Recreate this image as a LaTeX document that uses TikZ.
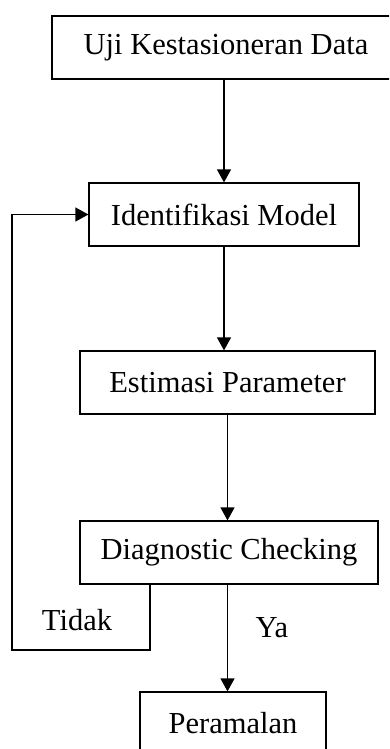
\documentclass[tikz,border=0pt]{standalone}
\usepackage{fontspec}
\setmainfont{Liberation Serif}
\usetikzlibrary{arrows.meta}

\begin{document}
\begin{tikzpicture}[x=1pt,y=-1pt,
  block/.style={rectangle,draw,line width=1.2pt,minimum height=63pt,inner sep=0pt,font=\fontsize{30.5}{36}\selectfont},
  arr/.style={line width=1.2pt,-{Triangle[length=13pt,width=14pt]}},
  lbl/.style={font=\fontsize{30.5}{36}\selectfont,inner sep=0pt}]
\def\xLeft{12}
\def\xTidak{150}
\def\yTidak{650}
  \useasboundingbox (0,0) rectangle (389,749);
  \clip (0,0) rectangle (389,749);
  %\draw[help lines] (0,0) grid (389,749);
\path
(226,47.5) node [block,minimum width=348pt] (uji) {Uji Kestasioneran Data}
(224,214.5) node [block,minimum width=270pt] (ident) {Identifikasi Model}
(227.5,382.5) node [block,minimum width=295pt] (estim) {Estimasi Parameter}
(229,552.5) node [block,minimum width=298pt] (diag) {Diagnostic Checking}
(233,723.5) node [block,minimum width=186pt] (peram) {Peramalan}
(77,620) node [lbl] (tidak) {Tidak}
(272,628) node [lbl] (ya) {Ya}
;
\coordinate (tk) at (\xTidak,\yTidak);
\coordinate (lf) at (\xLeft,\yTidak);
\draw[arr] (uji.south -| ident.north) -- (ident.north);
\draw[arr] (ident.south) -- (ident.south |- estim.north);
\draw[arr] (estim.south) -- (estim.south |- diag.north);
\draw[arr] (diag.south -| estim.south) -- (peram.north -| estim.south);
  % jalur kembali (Tidak)
\draw[arr] (diag.south -| tk) -- (tk) -- (lf) |- (ident.west);
\end{tikzpicture}
\end{document}
